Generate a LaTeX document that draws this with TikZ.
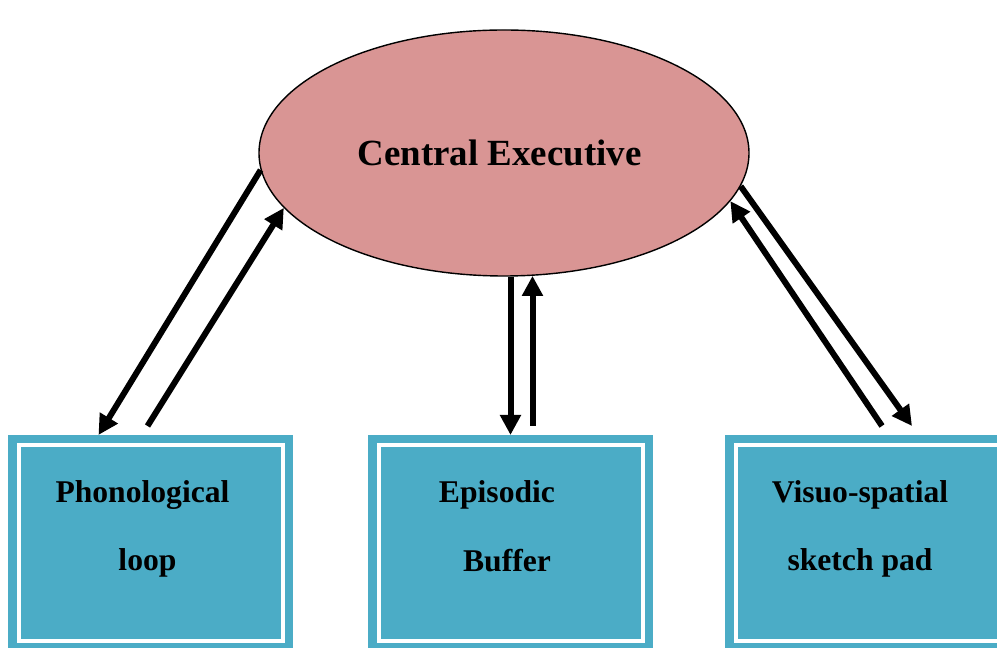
\documentclass[tikz,border=0pt]{standalone}
\usepackage{fontspec}
\setmainfont{Liberation Serif}
\usetikzlibrary{shapes.geometric,arrows.meta}
\definecolor{cepink}{HTML}{D99594}
\definecolor{unitteal}{HTML}{4BACC6}
\begin{document}
\begin{tikzpicture}[%
      exec/.style={ellipse,draw,line width=0.8pt,fill=cepink,minimum width=9.8cm,
        minimum height=4.92cm,inner sep=0pt,font=\fontsize{21}{25}\selectfont\bfseries},
      unit/.style={rectangle,fill=unitteal,minimum width=5.7cm,minimum height=4.34cm,
        inner sep=0pt,outer sep=0pt,
        path picture={\draw[white,line width=0.08cm]
          ([shift={(0.21cm,-0.21cm)}]path picture bounding box.north west) rectangle
          ([shift={(-0.21cm,0.21cm)}]path picture bounding box.south east);}},
      unittext/.style={align=center,inner sep=0pt,font=\fontsize{18}{39}\selectfont\bfseries},
      flow/.style={line width=0.12cm,-{Triangle[length=0.4cm,width=0.4cm]}}]
      \useasboundingbox (0,0) rectangle (19.94,12.96);
      \node[exec] at(10.08,9.9)(ce){Central Executive\hspace*{0.18cm}};
      \node[unit] at(3.01,2.09)(pl){};
      \node[unit] at(10.21,2.09)(eb){};
      \node[unit] at(17.35,2.09)(vs){};
      \node[unittext] at([xshift=-0.16cm,yshift=0.29cm]pl.center)(pltext)
      {Phonological\\\hspace*{0.2cm}loop};
      \node[unittext] at([xshift=-0.27cm,yshift=0.35cm]eb.center)(ebtext)
      {Episodic\\\hspace*{0.4cm}Buffer};
      \node[unittext] at([xshift=-0.15cm,yshift=0.29cm]vs.center)(vstext)
      {Visuo-spatial\\sketch pad};
      % left pair
      \draw[flow](ce.184)--([xshift=-1.04cm]pl.north);
      \draw[flow]([xshift=-0.06cm,yshift=0.18cm]pl.north)--(ce.194);
      % middle pair
      \draw[flow](ce.south -| eb.north)--(eb.north);
      \draw[flow]([xshift=0.44cm,yshift=0.18cm]eb.north)--([xshift=0.44cm]eb.north |- ce.283);
      % right pair
      \draw[flow](ce.352)--([xshift=0.89cm,yshift=0.18cm]vs.north);
      \draw[flow]([xshift=0.29cm,yshift=0.18cm]vs.north)--(ce.348);
    \end{tikzpicture}
\end{document}
